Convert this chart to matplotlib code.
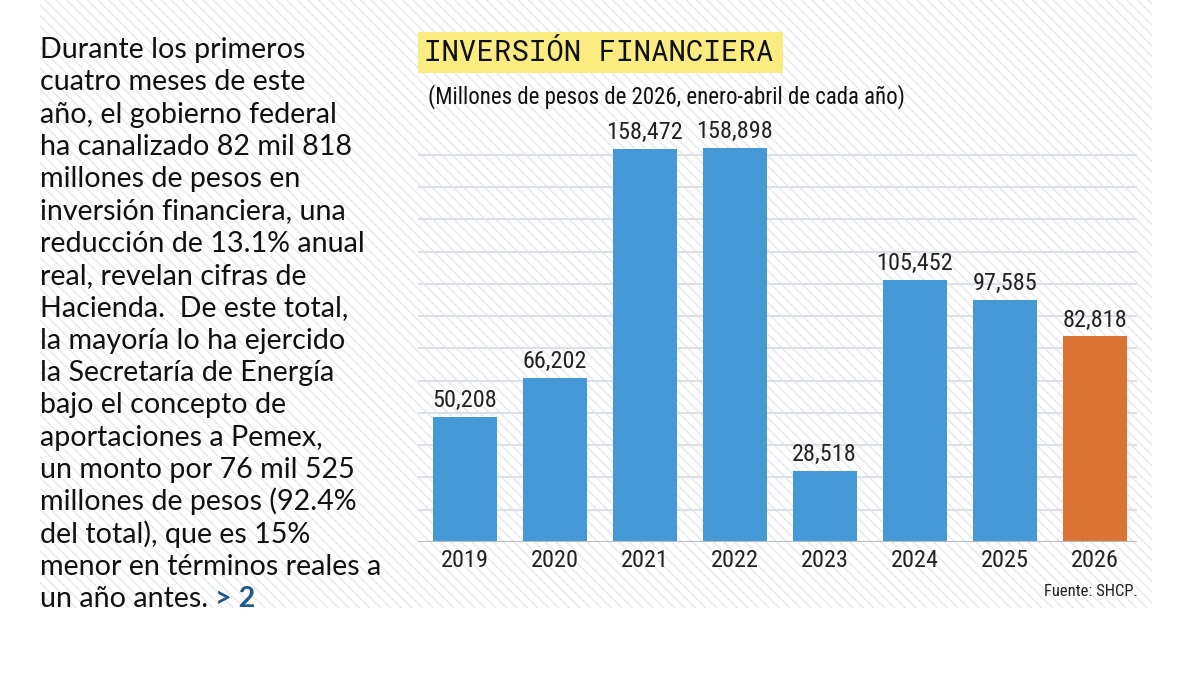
import numpy as np
import matplotlib
matplotlib.use("Agg")
import matplotlib.pyplot as plt
from matplotlib.patches import Rectangle

# datos: inversión financiera, millones de pesos de 2026 (enero-abril)
anios = ["2019", "2020", "2021", "2022", "2023", "2024", "2025", "2026"]
valores = [50208, 66202, 158472, 158898, 28518, 105452, 97585, 82818]
colores = ["#4599D6"] * 7 + ["#DA7333"]

texto = [
    "Durante los primeros",
    "cuatro meses de este",
    "año, el gobierno federal",
    "ha canalizado 82 mil 818",
    "millones de pesos en",
    "inversión financiera, una",
    "reducción de 13.1% anual",
    "real, revelan cifras de",
    "Hacienda.  De este total,",
    "la mayoría lo ha ejercido",
    "la Secretaría de Energía",
    "bajo el concepto de",
    "aportaciones a Pemex,",
    "un monto por 76 mil 525",
    "millones de pesos (92.4%",
    "del total), que es 15%",
    "menor en términos reales a",
    "un año antes.",
]

W, H = 1178, 682
NARROW = ["Roboto Condensed", "Archivo Narrow", "Asap Condensed", "DejaVu Sans"]
CUERPO = ["Lato", "DejaVu Sans"]
MONO = ["Roboto Mono", "DejaVu Sans Mono"]


def fx(px):
    return px / W


def fy(py):
    return 1 - py / H


fig = plt.figure(figsize=(W / 100, H / 100), dpi=100)
fig.patch.set_facecolor("white")

# fondo rayado
bg = fig.add_axes([fx(40), fy(608), fx(1152) - fx(40), fy(0) - fy(608)])
bg.set_xlim(40, 1152)
bg.set_ylim(608, 0)
bg.axis("off")
for c in np.arange(-700, 1200, 10.5):
    bg.plot([c, c + 700], [0, 700], color="#EAEBEF", lw=1.2, zorder=0)

# texto de la izquierda
for i, linea in enumerate(texto[:-1]):
    fig.text(fx(40), fy(58 + 32.3 * i), linea, fontsize=20.6, family=CUERPO,
             color="#111111", va="baseline", ha="left")
t = fig.text(fx(40), fy(58 + 32.3 * 17), texto[-1], fontsize=20.6, family=CUERPO,
             color="#111111", va="baseline", ha="left")
fig.canvas.draw()
bb = t.get_window_extent()
fig.text((bb.x1 + 7) / W, fy(58 + 32.3 * 17), "> 2", fontsize=20.6, family=CUERPO,
         weight="bold", color="#1E5A8A", va="baseline", ha="left")

# título
fig.patches.append(Rectangle((fx(418), fy(73)), fx(783) - fx(418), fy(32) - fy(73),
                             transform=fig.transFigure, facecolor="#FAEC80",
                             edgecolor="none", zorder=1))
fig.text(fx(424), fy(53), "INVERSIÓN FINANCIERA", family=MONO,
         fontsize=21, color="#111111", va="center", ha="left", zorder=2)
fig.text(fx(428), fy(97), "(Millones de pesos de 2026, enero-abril de cada año)",
         family=NARROW, fontsize=16.5, color="#111111", va="center", ha="left")

# gráfica
escala = 403.0
ax = fig.add_axes([fx(418), fy(542), fx(1137) - fx(418), (542 - 100) / H])
ax.set_facecolor("none")
ax.set_xlim(-0.52, 7.47)
ax.set_ylim(0, (542 - 100) * escala)
x = np.arange(len(anios))
ax.bar(x, valores, width=0.71, color=colores, zorder=3)
for xi, v in zip(x, valores):
    ax.text(xi, v + 5 * escala, f"{v:,}", ha="center", va="bottom",
            family=NARROW, fontsize=17.5, color="#222222")
ax.set_yticks(np.arange(13000, 157000, 13000))
ax.yaxis.grid(True, color="#DDE1E7", lw=1.5, zorder=1)
ax.axhline(0, color="#B8BBC0", lw=1.5, zorder=4)
ax.set_xticks(x)
ax.set_xticklabels(anios, family=NARROW, fontsize=17.5, color="#222222")
ax.tick_params(axis="x", length=0, pad=5)
ax.tick_params(axis="y", length=0, labelleft=False)
for s in ax.spines.values():
    s.set_visible(False)

fig.text(fx(1138), fy(592), "Fuente: SHCP.", family=NARROW, fontsize=12,
         color="#222222", ha="right", va="center")

fig.savefig("out.png", dpi=100, facecolor="white")
